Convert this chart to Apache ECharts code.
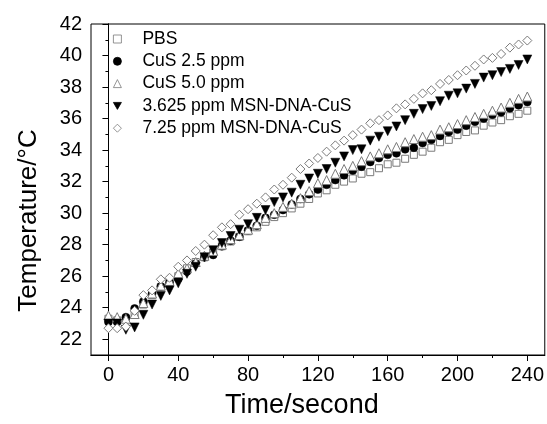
<!DOCTYPE html>
<html>
<head>
<meta charset="utf-8">
<script src="https://cdn.jsdelivr.net/npm/echarts@6.0.0/dist/echarts.min.js"></script>
<style>
  html, body { margin: 0; padding: 0; background: #fff; }
  #chart { width: 547px; height: 424px; }
</style>
</head>
<body>
<div id="chart"></div>
<script>
const times = [0, 5, 10, 15, 20, 25, 30, 35, 40, 45, 50, 55, 60, 65, 70, 75, 80, 85, 90, 95,
  100, 105, 110, 115, 120, 125, 130, 135, 140, 145, 150, 155, 160, 165, 170, 175, 180, 185, 190, 195,
  200, 205, 210, 215, 220, 225, 230, 235, 240]

const pbs = [23.3, 23.2, 23.3, 23.55, 24.2, 24.8, 25.3, 25.6, 26.0, 26.5, 26.9, 27.2, 27.5, 27.9, 28.2, 28.5, 28.85, 29.1, 29.45, 29.75,
  30.0, 30.3, 30.6, 30.9, 31.25, 31.45, 31.8, 32.0, 32.2, 32.5, 32.6, 32.85, 33.1, 33.2, 33.45, 33.7, 33.9, 34.15, 34.5, 34.65,
  34.95, 35.15, 35.25, 35.55, 35.75, 35.9, 36.15, 36.3, 36.5]
const cus25 = [23.1, 23.1, 23.4, 23.95, 24.4, 24.9, 25.35, 25.6, 25.85, 26.3, 26.8, 27.2, 27.35, 27.9, 28.25, 28.5, 28.9, 29.2, 29.7, 29.9,
  30.2, 30.55, 30.9, 31.2, 31.5, 31.8, 32.1, 32.4, 32.7, 32.95, 33.25, 33.5, 33.7, 33.8, 34.05, 34.15, 34.45, 34.65, 34.9, 35.15,
  35.3, 35.55, 35.8, 36.0, 36.25, 36.4, 36.65, 36.85, 37.05]
const cus50 = [23.5, 23.4, 23.3, 23.6, 24.3, 24.9, 25.4, 25.7, 26.2, 26.5, 26.9, 27.3, 27.6, 28.0, 28.35, 28.6, 28.95, 29.3, 29.7, 30.0,
  30.4, 30.6, 30.95, 31.4, 31.9, 32.1, 32.5, 32.8, 33.0, 33.3, 33.6, 33.8, 34.05, 34.2, 34.5, 34.7, 34.85, 34.95, 35.3, 35.45,
  35.65, 35.9, 36.1, 36.3, 36.5, 36.7, 37.0, 37.25, 37.4]
const msn3625 = [23.0, 23.0, 22.6, 22.75, 23.55, 24.2, 24.75, 25.1, 25.55, 26.15, 26.6, 27.2, 27.65, 28.1, 28.55, 28.95, 29.3, 29.7, 30.2, 30.7,
  31.0, 31.3, 31.8, 32.2, 32.5, 32.8, 33.2, 33.6, 34.0, 34.05, 34.6, 34.85, 35.2, 35.5, 35.9, 36.3, 36.6, 36.8, 37.1, 37.45,
  37.6, 37.9, 38.2, 38.6, 38.75, 38.95, 39.15, 39.4, 39.75]
const msn725 = [22.7, 22.7, 22.8, 23.8, 24.8, 25.1, 25.8, 25.9, 26.6, 27.0, 27.6, 28.0, 28.6, 29.1, 29.3, 29.9, 30.25, 30.6, 31.0, 31.5,
  31.8, 32.25, 32.8, 33.15, 33.5, 33.9, 34.3, 34.6, 34.95, 35.3, 35.7, 35.9, 36.2, 36.65, 36.9, 37.25, 37.6, 37.8, 38.2, 38.45,
  38.75, 39.05, 39.35, 39.75, 39.85, 40.1, 40.5, 40.7, 40.95]

const xLabels = [0, 40, 80, 120, 160, 200, 240]
const xMinor = [20, 60, 100, 140, 180, 220]
const yLabels = [22, 24, 26, 28, 30, 32, 34, 36, 38, 40, 42]
const yMinor = [21, 23, 25, 27, 29, 31, 33, 35, 37, 39, 41]

const font = 'Liberation Sans, Arial, sans-serif'
const gray = '#7a7a7a'
const downTri = 'path://M0,0L10,0L5,8.7Z'

const pairs = vals => vals.map((v, i) => [times[i], v])

const makeSeries = (name, vals, symbol, size, hollow) => ({
  name,
  type: 'scatter',
  xAxisIndex: 0,
  yAxisIndex: 0,
  data: pairs(vals),
  symbol,
  symbolSize: size,
  itemStyle: hollow
    ? { color: '#fff', borderColor: gray, borderWidth: 1, opacity: 1 }
    : { color: '#000', borderColor: '#000', borderWidth: 0.5, opacity: 1 },
  emphasis: { disabled: true },
  animation: false
})

const chart = echarts.init(document.getElementById('chart'))

const axisLineStyle = { show: true, lineStyle: { color: '#000', width: 1 } }

const option = {
  backgroundColor: '#fff',
  animation: false,
  grid: {
    left: 91, right: 2, top: 24, bottom: 64,
    show: true, borderColor: '#000', borderWidth: 1
  },
  legend: {
    orient: 'vertical',
    left: 108,
    top: 25,
    itemWidth: 8,
    itemHeight: 8,
    itemGap: 4.3,
    itemStyle: { borderWidth: 0.8 },
    textStyle: { fontFamily: font, fontSize: 17.5, color: '#000', lineHeight: 18, padding: [0, 0, 0, 16] },
    data: ['PBS', 'CuS 2.5 ppm', 'CuS 5.0 ppm', '3.625 ppm MSN-DNA-CuS', '7.25 ppm MSN-DNA-CuS']
  },
  xAxis: [
    {
      type: 'value', min: -10, max: 250,
      name: 'Time/second',
      nameLocation: 'middle',
      nameGap: 37,
      nameTextStyle: { fontFamily: font, fontSize: 27, color: '#000', padding: [0, 32, 0, 0] },
      axisLine: axisLineStyle,
      axisTick: { show: true, length: 6, inside: false, customValues: xLabels, lineStyle: { color: '#000' } },
      axisLabel: { customValues: xLabels, fontFamily: font, fontSize: 20, color: '#000', margin: 10 },
      splitLine: { show: false }
    },
    {
      type: 'value', min: -10, max: 250, position: 'bottom',
      axisLine: axisLineStyle,
      axisTick: { show: true, length: 3, customValues: xMinor, lineStyle: { color: '#000' } },
      axisLabel: { show: false },
      splitLine: { show: false }
    }
  ],
  yAxis: [
    {
      type: 'value', min: 21, max: 42,
      name: 'Temperature/°C',
      nameLocation: 'middle',
      nameGap: 49,
      nameTextStyle: { fontFamily: font, fontSize: 26, color: '#000', padding: [0, 62, 0, 0] },
      axisLine: axisLineStyle,
      axisTick: { show: true, length: 6, customValues: yLabels, lineStyle: { color: '#000' } },
      axisLabel: { customValues: yLabels, fontFamily: font, fontSize: 20, color: '#000', margin: 9 },
      splitLine: { show: false }
    },
    {
      type: 'value', min: 21, max: 42, position: 'left',
      axisLine: axisLineStyle,
      axisTick: { show: true, length: 3, customValues: yMinor, lineStyle: { color: '#000' } },
      axisLabel: { show: false },
      splitLine: { show: false }
    }
  ],
  series: [
    makeSeries('PBS', pbs, 'rect', 7, true),
    makeSeries('CuS 2.5 ppm', cus25, 'circle', 8, false),
    makeSeries('CuS 5.0 ppm', cus50, 'triangle', 9, true),
    makeSeries('3.625 ppm MSN-DNA-CuS', msn3625, downTri, 9, false),
    makeSeries('7.25 ppm MSN-DNA-CuS', msn725, 'diamond', 9, true)
  ]
}

chart.setOption(option)
</script>
</body>
</html>
